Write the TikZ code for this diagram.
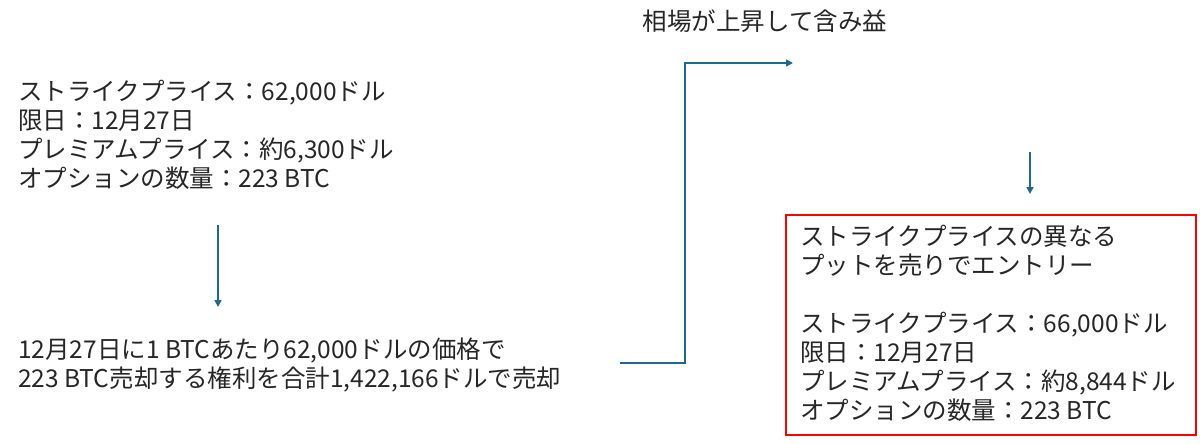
\documentclass[tikz,border=0pt]{standalone}
\usepackage{fontspec}
\newfontfamily\jp{Noto Sans CJK JP}
\usetikzlibrary{arrows.meta}
\definecolor{arrowblue}{HTML}{1F6A8A}
\definecolor{boxred}{HTML}{FF0000}
\tikzset{
  txt/.style={font=\jp\fontsize{24.5}{29}\selectfont, align=left, inner sep=0pt, anchor=base west, text=black!85},
  conn/.style={draw=arrowblue, line width=1.6pt, -{Triangle[length=7pt,width=7pt]}},
}
\begin{document}
\begin{tikzpicture}[x=1pt,y=-1pt]
\useasboundingbox (0,0) rectangle (1200,444);
\node[txt, anchor=base] (title) at (765,31) {相場が上昇して含み益};
\node[txt] (b1) at (18,187) {ストライクプライス：62,000ドル\\限日：12月27日\\プレミアムプライス：約6,300ドル\\オプションの数量：223 BTC};
\node[txt] (b2) at (18,387) {12月27日に1 BTCあたり62,000ドルの価格で\\223 BTC売却する権利を合計1,422,166ドルで売却};
\draw[boxred, line width=1.2pt] (786,215) rectangle (1196,435);
\node[txt] (b3) at (800,419) {ストライクプライスの異なる\\プットを売りでエントリー\\[29pt]ストライクプライス：66,000ドル\\限日：12月27日\\プレミアムプライス：約8,844ドル\\オプションの数量：223 BTC};
\coordinate (a1s) at (218,225);
\coordinate (a1e) at (218,307);
\coordinate (c1s) at (620,363);
\coordinate (c1e) at (793,63);
\coordinate (a2s) at (1030,152);
\coordinate (a2e) at (1030,194);
\draw[conn] (a1s) -- (a1e);
\draw[conn] (c1s) -- (685,363) -- (685,63) -- (c1e);
\draw[conn] (a2s) -- (a2e);
\end{tikzpicture}
\end{document}
